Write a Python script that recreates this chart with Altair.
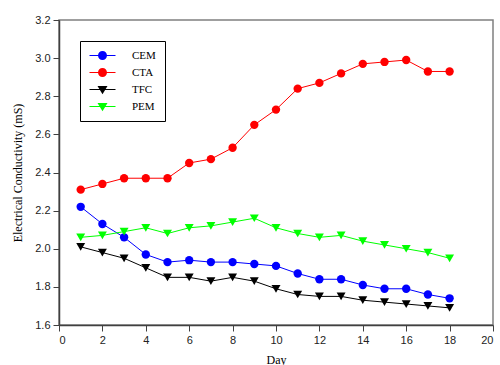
import altair as alt
import pandas as pd

days = list(range(1, 19))
cem = [2.22, 2.13, 2.06, 1.97, 1.93, 1.94, 1.93, 1.93, 1.92, 1.91, 1.87, 1.84, 1.84, 1.81, 1.79, 1.79, 1.76, 1.74]
cta = [2.31, 2.34, 2.37, 2.37, 2.37, 2.45, 2.47, 2.53, 2.65, 2.73, 2.84, 2.87, 2.92, 2.97, 2.98, 2.99, 2.93, 2.93]
tfc = [2.01, 1.98, 1.95, 1.90, 1.85, 1.85, 1.83, 1.85, 1.83, 1.79, 1.76, 1.75, 1.75, 1.73, 1.72, 1.71, 1.70, 1.69]
pem = [2.06, 2.07, 2.09, 2.11, 2.08, 2.11, 2.12, 2.14, 2.16, 2.11, 2.08, 2.06, 2.07, 2.04, 2.02, 2.00, 1.98, 1.95]

series_names = ["CEM", "CTA", "TFC", "PEM"]
series_colors = ["#0000FF", "#FF0000", "#000000", "#00FF00"]
x_ticks = list(range(0, 21, 2))
y_ticks = [1.6, 1.8, 2.0, 2.2, 2.4, 2.6, 2.8, 3.0, 3.2]

rows = []
for name, vals in zip(series_names, [cem, cta, tfc, pem]):
    for d, v in zip(days, vals):
        rows.append({"Day": d, "EC": v, "Series": name})
df = pd.DataFrame(rows)

# legend glyphs: a filled thin bar (the line) plus the marker, all wound clockwise
bar = "M-2.6,-0.1L2.6,-0.1L2.6,0.1L-2.6,0.1Z"
circle_path = bar + "M-0.9,0A0.9,0.9,0,1,1,0.9,0A0.9,0.9,0,1,1,-0.9,0Z"
tri_path = bar + "M-1,-0.7L1,-0.7L0,0.95Z"

x_enc = alt.X("Day:Q", scale=alt.Scale(domain=[0, 20], nice=False),
              axis=alt.Axis(values=x_ticks, title="Day", format="d"))
y_enc = alt.Y("EC:Q", scale=alt.Scale(domain=[1.6, 3.2], nice=False, zero=False),
              axis=alt.Axis(values=y_ticks, title="Electrical Conductivity (mS)", format=".1f"))

def color_scale():
    return alt.Scale(domain=series_names, range=series_colors)

base = alt.Chart(df)

lines = base.mark_line(strokeWidth=1).encode(
    x=x_enc, y=y_enc,
    color=alt.Color("Series:N", scale=color_scale(), legend=None),
    detail="Series:N",
)

circles = base.transform_filter(
    alt.FieldOneOfPredicate(field="Series", oneOf=["CEM", "CTA"])
).mark_point(shape="circle", filled=True, size=70, opacity=1).encode(
    x=x_enc, y=y_enc,
    color=alt.Color("Series:N", scale=color_scale(), legend=None),
)

triangles = base.transform_filter(
    alt.FieldOneOfPredicate(field="Series", oneOf=["TFC", "PEM"])
).mark_point(shape="triangle-down", filled=True, size=80, opacity=1).encode(
    x=x_enc, y=y_enc,
    color=alt.Color("Series:N", scale=color_scale(), legend=None),
)

legend_kw = dict(
    title=None, orient="top-left", offset=21,
    strokeColor="#000000", padding=9,
    labelFont="Liberation Serif", labelFontSize=11, labelColor="#000000",
    symbolSize=100, symbolStrokeWidth=0, symbolOffset=8, labelOffset=24,
    rowPadding=5, fillColor="#FFFFFF",
)

legend_layer = base.mark_point(filled=True, opacity=1, size=1).encode(
    x=x_enc, y=y_enc,
    color=alt.Color("Series:N", scale=color_scale(), legend=alt.Legend(**legend_kw)),
    shape=alt.Shape("Series:N",
                    scale=alt.Scale(domain=series_names,
                                    range=[circle_path, circle_path, tri_path, tri_path]),
                    legend=alt.Legend(**legend_kw)),
)

chart = alt.layer(lines, circles, triangles, legend_layer).resolve_scale(
    color="independent", shape="independent"
).properties(
    width=434, height=305,
    autosize=alt.AutoSizeParams(type="none"),
    padding={"left": 59, "top": 20, "right": 7, "bottom": 40},
).configure_view(
    stroke="#808080", strokeWidth=1.5,
).configure_legend(
    strokeWidth=1,
).configure_axis(
    grid=False,
    domainColor="#404040", domainWidth=1.5,
    tickColor="#404040", tickSize=6, tickWidth=1,
    labelFont="Liberation Sans", labelFontSize=11, labelColor="#222222", labelPadding=3,
    titleFont="Liberation Serif", titleFontSize=12, titleFontWeight="normal", titleColor="#000000",
).configure_axisX(
    titlePadding=9,
).configure_axisY(
    titlePadding=10,
)

chart.save("out.html", embed_options={"renderer": "svg", "actions": False})
